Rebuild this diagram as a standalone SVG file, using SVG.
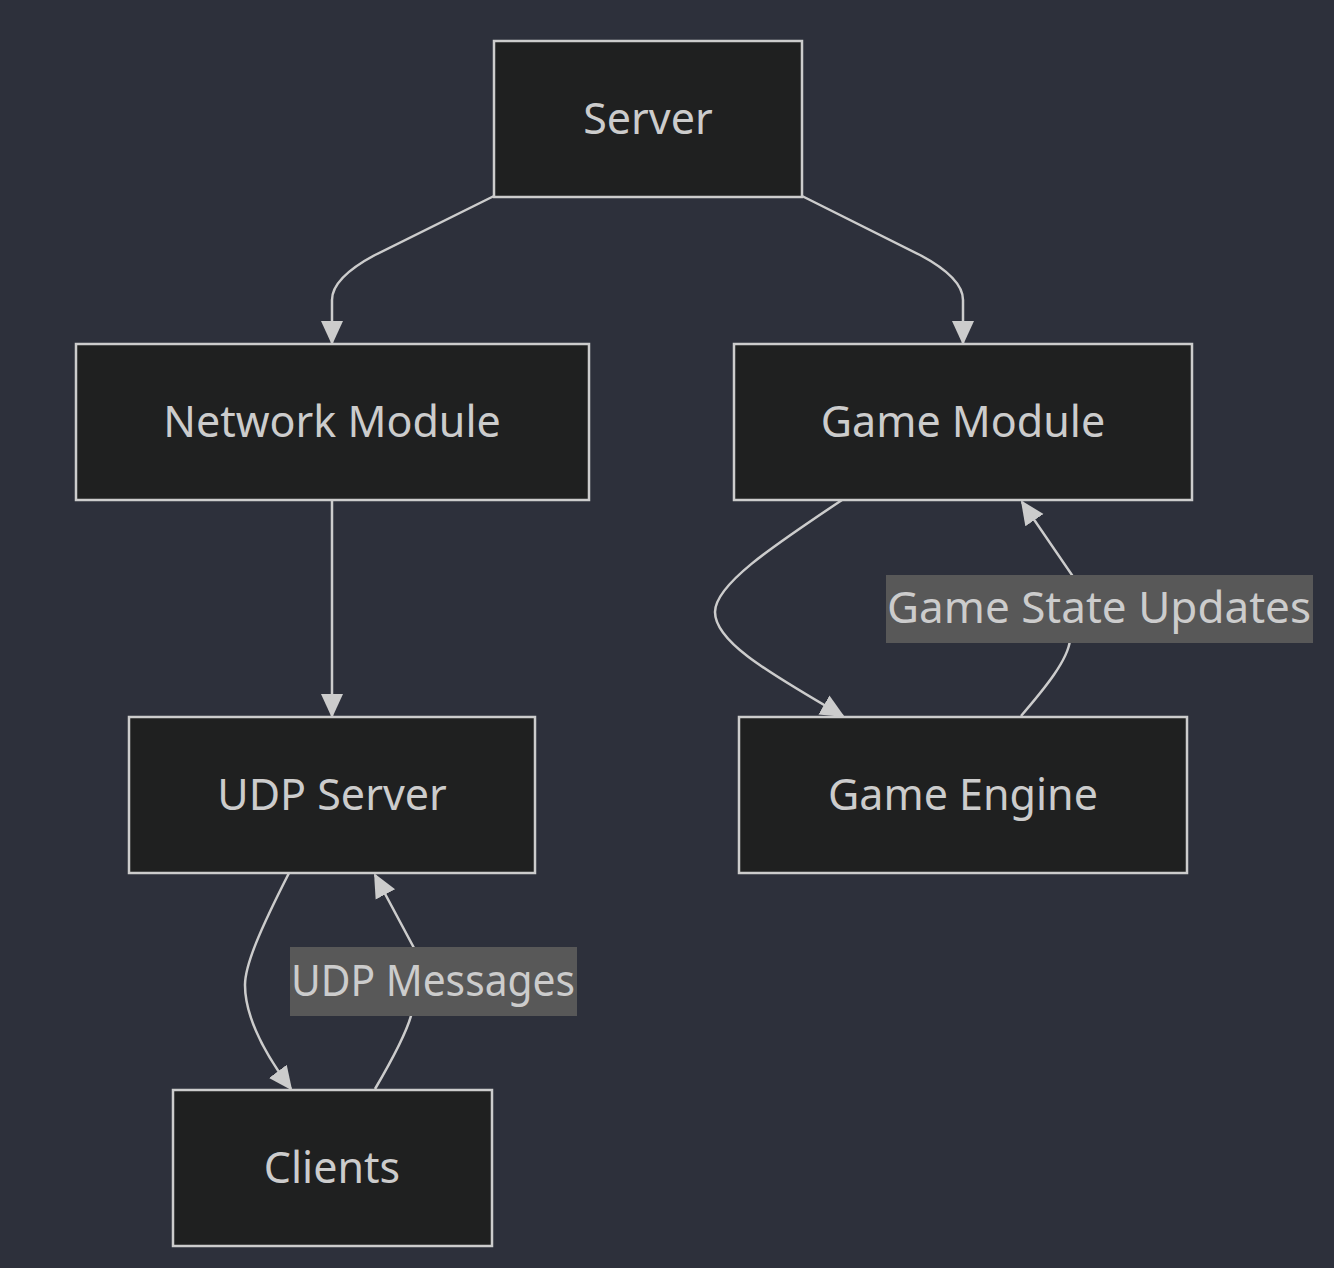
<svg xmlns="http://www.w3.org/2000/svg" width="1334" height="1268" viewBox="0 0 1334 1268">
<style>
.node rect{fill:#1f2020;stroke:#cccccc;stroke-width:2.5}
.node text,.lbl text{fill:#cccccc;font-family:"Trebuchet MS","Noto Sans","DejaVu Sans",sans-serif;font-size:43px;text-anchor:middle;dominant-baseline:central}
.edge{fill:none;stroke:#cccccc;stroke-width:2.5}
.lbl rect{fill:#585858}
</style>
<defs>
<marker id="arr" markerUnits="userSpaceOnUse" markerWidth="24" markerHeight="24" viewBox="0 0 24 24" refX="22" refY="12" orient="auto">
<path d="M0,1 L24,12 L0,23 Z" fill="#cccccc"/>
</marker>
</defs>
<rect width="1334" height="1268" fill="#2d303b"/>
<g id="connectors">
<path class="edge" d="M494,196 L375,255 Q332,278 332,300 L332,343" marker-end="url(#arr)"/>
<path class="edge" d="M802,196 L920,255 Q963,278 963,300 L963,343" marker-end="url(#arr)"/>
<path class="edge" d="M332,500 L332,716" marker-end="url(#arr)"/>
<path class="edge" d="M842,500 C770,548 715,585 715,612 C715,640 760,668 843,716" marker-end="url(#arr)"/>
<path class="edge" d="M1021,716 C1045,688 1068,660 1070,640 L1072,575 L1022,502" marker-end="url(#arr)"/>
<path class="edge" d="M289,873 C260,930 245,965 245,985 C245,1015 262,1050 291,1089" marker-end="url(#arr)"/>
<path class="edge" d="M375,1089 C392,1060 408,1030 412,1012 L414,948 L375,875" marker-end="url(#arr)"/>
</g>
<g id="label-game-state-updates" class="lbl">
<rect x="886" y="575" width="427" height="68"/>
<text x="1099" y="606" textLength="424" lengthAdjust="spacingAndGlyphs">Game State Updates</text>
</g>
<g id="label-udp-messages" class="lbl">
<rect x="290" y="947" width="287" height="69"/>
<text x="433" y="979" textLength="284" lengthAdjust="spacingAndGlyphs">UDP Messages</text>
</g>
<g id="node-server" class="node"><rect x="494" y="41" width="308" height="156"/><text x="648" y="117">Server</text></g>
<g id="node-network" class="node"><rect x="76" y="344" width="513" height="156"/><text x="332" y="420">Network Module</text></g>
<g id="node-game" class="node"><rect x="734" y="344" width="458" height="156"/><text x="963" y="420">Game Module</text></g>
<g id="node-udp" class="node"><rect x="129" y="717" width="406" height="156"/><text x="332" y="793">UDP Server</text></g>
<g id="node-engine" class="node"><rect x="739" y="717" width="448" height="156"/><text x="963" y="793">Game Engine</text></g>
<g id="node-clients" class="node"><rect x="173" y="1090" width="319" height="156"/><text x="332" y="1166">Clients</text></g>
</svg>
